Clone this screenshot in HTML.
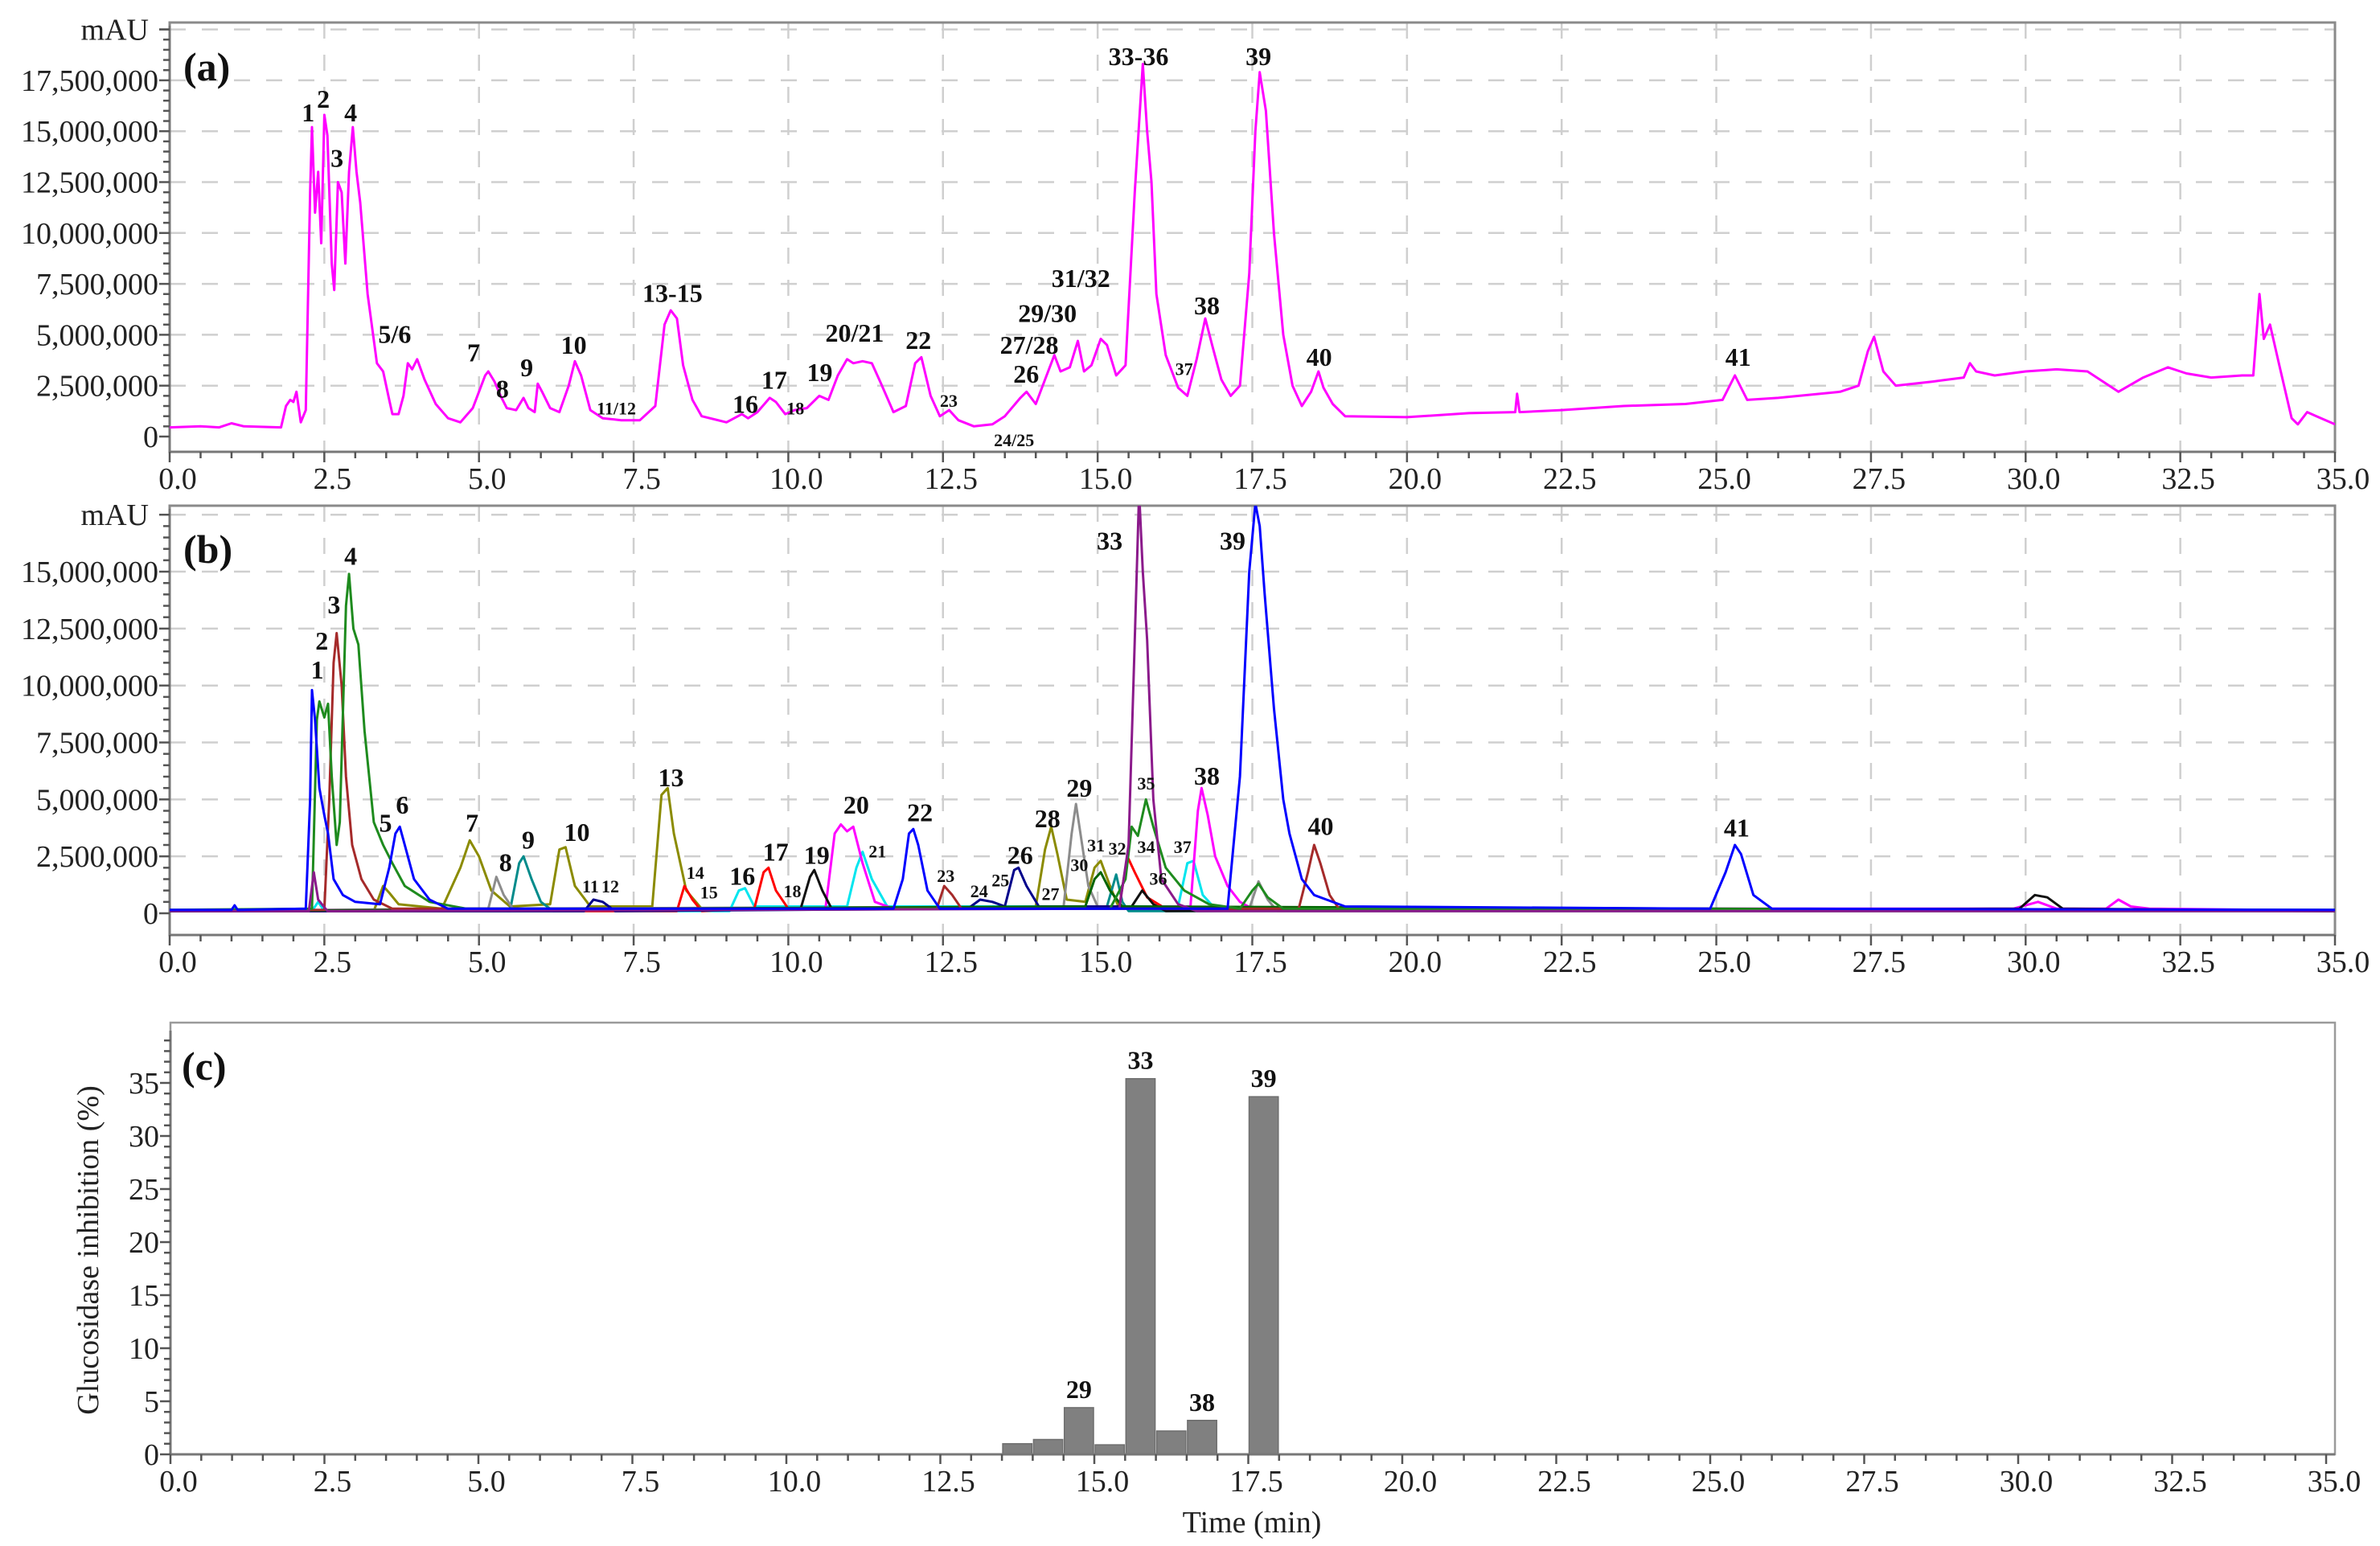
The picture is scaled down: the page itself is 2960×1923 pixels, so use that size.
<!DOCTYPE html>
<html><head><meta charset="utf-8">
<style>
html,body{margin:0;padding:0;background:#fff;}
svg{display:block;font-family:"Liberation Serif",serif;}
</style></head>
<body>
<svg id="fig" width="2960" height="1923" viewBox="0 0 2960 1923" xmlns="http://www.w3.org/2000/svg">
<defs>
<clipPath id="clipA"><rect x="211" y="28" width="2693" height="534"/></clipPath>
<clipPath id="clipB"><rect x="211" y="629" width="2693" height="534"/></clipPath>
</defs>
<g id="root"></g>
</svg>
<script>
// ---------- Panel (a) data: total chromatogram (time min, signal in millions) ----------
const aTimes=[0,0.5,0.8,1.0,1.2,1.8,1.88,1.95,2.0,2.05,2.12,2.2,2.27,2.3,2.35,2.4,2.45,2.5,2.55,2.62,2.66,2.72,2.78,2.84,2.9,2.96,3.02,3.08,3.2,3.35,3.45,3.55,3.6,3.7,3.78,3.85,3.92,4.0,4.12,4.3,4.5,4.7,4.9,5.0,5.1,5.15,5.25,5.35,5.45,5.6,5.72,5.8,5.9,5.95,6.02,6.15,6.3,6.45,6.55,6.65,6.8,7.0,7.3,7.6,7.85,8.0,8.1,8.2,8.3,8.45,8.6,9.0,9.25,9.35,9.5,9.7,9.8,9.95,10.1,10.3,10.5,10.65,10.8,10.95,11.05,11.2,11.35,11.5,11.7,11.9,12.05,12.15,12.3,12.45,12.6,12.75,13.0,13.3,13.5,13.75,13.85,14.0,14.15,14.3,14.4,14.55,14.68,14.78,14.9,15.05,15.15,15.3,15.45,15.6,15.73,15.8,15.87,15.95,16.1,16.3,16.45,16.6,16.74,16.85,17.0,17.15,17.3,17.45,17.55,17.62,17.72,17.85,18.0,18.15,18.3,18.45,18.57,18.65,18.8,19.0,20.0,21.0,21.75,21.78,21.82,22.5,23.5,24.5,25.1,25.3,25.5,26.0,27.0,27.3,27.45,27.55,27.7,27.9,28.5,29.0,29.1,29.2,29.5,30.0,30.5,31.0,31.5,31.9,32.3,32.6,33.0,33.5,33.68,33.78,33.85,33.95,34.1,34.3,34.4,34.55,34.7,35.0];
const aValues=[0.45,0.5,0.45,0.65,0.5,0.45,1.5,1.8,1.7,2.2,0.7,1.3,12,15.2,11,13,9.5,15.8,14.8,8.5,7.2,12.5,12,8.5,13,15.2,13,11.5,7,3.6,3.2,1.8,1.1,1.1,2.0,3.6,3.3,3.8,2.8,1.6,0.9,0.7,1.4,2.2,3.0,3.2,2.7,2.0,1.4,1.3,1.9,1.4,1.2,2.6,2.2,1.4,1.2,2.5,3.7,3.0,1.3,0.9,0.8,0.8,1.5,5.5,6.2,5.8,3.5,1.8,1.0,0.7,1.1,0.9,1.2,1.9,1.7,1.1,1.3,1.4,2.0,1.8,3.0,3.8,3.6,3.7,3.6,2.6,1.2,1.5,3.6,3.9,2.0,1.0,1.3,0.8,0.5,0.6,1.0,1.9,2.2,1.6,2.8,4.0,3.2,3.4,4.7,3.2,3.5,4.8,4.5,3.0,3.5,12,18.3,15,12.5,7,4,2.4,2.0,3.8,5.8,4.5,2.8,2.0,2.5,8,15,17.9,16,10,5,2.5,1.5,2.2,3.2,2.4,1.6,1.0,0.95,1.15,1.2,2.1,1.2,1.3,1.5,1.6,1.8,3.0,1.8,1.9,2.2,2.5,4.2,4.9,3.2,2.5,2.7,2.9,3.6,3.2,3.0,3.2,3.3,3.2,2.2,2.9,3.4,3.1,2.9,3.0,3.0,7.0,4.8,5.5,3.5,0.9,0.6,1.2,1.0,0.6];

// ---------- Panel (b) data: individual peak traces ----------
const bBlueT=[0,1.0,1.05,1.1,2.2,2.27,2.3,2.35,2.42,2.5,2.56,2.65,2.8,3.0,3.4,3.55,3.65,3.72,3.8,3.95,4.2,4.5,11.7,11.85,11.95,12.02,12.1,12.25,12.45,17.1,17.3,17.45,17.55,17.62,17.7,17.85,18.0,18.1,18.3,18.5,19.0,24.9,25.15,25.3,25.4,25.6,25.9,35];
const bBlueV=[0.15,0.15,0.35,0.15,0.2,5,9.8,8.5,5.5,4.3,3.5,1.5,0.8,0.5,0.4,2,3.5,3.8,3,1.5,0.6,0.2,0.2,1.5,3.5,3.7,3.0,1.0,0.2,0.2,6,15,18,17,14,9,5,3.5,1.5,0.8,0.3,0.2,1.8,3.0,2.6,0.8,0.2,0.15];
const bGreenT=[0,2.3,2.38,2.42,2.5,2.56,2.62,2.7,2.75,2.85,2.9,2.97,3.05,3.15,3.3,3.45,3.6,3.8,4.2,4.8,15.2,15.45,15.55,15.65,15.78,15.9,16.1,16.4,16.8,17.3,17.5,17.6,17.75,18.0,35];
const bGreenV=[0.15,0.2,8.5,9.3,8.6,9.2,6,3,4,13.5,14.9,12.5,11.8,8,4,3.0,2.2,1.2,0.5,0.2,0.2,1.5,3.8,3.4,5.0,3.8,2.0,1.0,0.4,0.2,1.0,1.3,0.7,0.2,0.15];
const bDarkRedT=[0,2.5,2.58,2.65,2.7,2.78,2.85,2.95,3.1,3.3,3.6,12.4,12.52,12.65,12.8,18.25,18.4,18.5,18.6,18.75,18.9,35];
const bDarkRedV=[0.12,0.15,5,11,12.3,10,6,3,1.5,0.6,0.2,0.2,1.2,0.8,0.2,0.2,1.8,3.0,2.2,0.8,0.2,0.12];
const bOliveT=[0,3.3,3.45,3.55,3.7,4.4,4.7,4.85,5.0,5.2,5.5,6.15,6.3,6.4,6.55,6.8,7.8,7.95,8.05,8.15,8.35,8.6,14.0,14.15,14.25,14.35,14.5,14.8,14.95,15.05,15.2,15.35,35];
const bOliveV=[0.1,0.1,1.2,0.9,0.4,0.2,2.0,3.2,2.5,1.0,0.3,0.4,2.8,2.9,1.2,0.3,0.3,5.2,5.5,3.5,1.0,0.2,0.3,2.8,3.8,2.6,0.6,0.5,2.0,2.3,1.2,0.2,0.1];
const bTealT=[0,5.5,5.65,5.72,5.85,6.0,6.2,15.15,15.3,15.4,15.5,35];
const bTealV=[0.1,0.1,2.2,2.5,1.5,0.5,0.1,0.3,1.7,0.5,0.1,0.1];
const bGrayT=[0,5.15,5.28,5.4,5.55,14.45,14.58,14.65,14.75,14.85,15.0,17.45,17.6,17.75,17.9,35];
const bGrayV=[0.1,0.2,1.6,0.8,0.2,0.3,3.5,4.8,3.0,1.2,0.3,0.2,1.4,0.6,0.1,0.1];
const bRedT=[0,8.2,8.32,8.45,8.6,9.45,9.6,9.68,9.8,10.0,15.35,15.48,15.6,15.8,16.1,35];
const bRedV=[0.1,0.1,1.2,0.6,0.1,0.2,1.8,2.0,1.0,0.2,0.3,2.5,1.8,0.7,0.2,0.1];
const bCyanT=[0,2.3,2.4,2.5,9.05,9.2,9.3,9.45,10.95,11.1,11.2,11.35,11.6,16.3,16.45,16.55,16.7,16.9,35];
const bCyanV=[0.1,0.1,0.5,0.1,0.1,1.0,1.1,0.3,0.3,2.0,2.7,1.5,0.3,0.3,2.2,2.3,0.8,0.2,0.1];
const bMagentaT=[0,10.6,10.75,10.85,10.95,11.05,11.2,11.4,11.7,16.5,16.62,16.68,16.78,16.9,17.1,17.3,17.5,29.8,30.2,30.5,31.3,31.5,31.7,32,35];
const bMagentaV=[0.12,0.2,3.5,3.9,3.6,3.8,2.2,0.5,0.2,0.3,4.5,5.5,4.3,2.5,1.2,0.5,0.2,0.2,0.5,0.2,0.2,0.6,0.3,0.2,0.12];
const bBlackT=[0,10.2,10.35,10.42,10.55,10.7,15.55,15.72,15.9,16.1,29.9,30.15,30.35,30.6,35];
const bBlackV=[0.1,0.2,1.6,1.9,1.0,0.2,0.3,1.0,0.4,0.1,0.2,0.8,0.7,0.2,0.1];
const bNavyT=[0,6.7,6.85,7.0,7.2,12.9,13.1,13.3,13.5,13.65,13.72,13.85,14.05,35];
const bNavyV=[0.1,0.1,0.6,0.5,0.1,0.2,0.6,0.5,0.3,1.9,2.0,1.2,0.3,0.1];
const bPurpleT=[0,2.25,2.33,2.4,2.55,15.35,15.5,15.6,15.67,15.73,15.8,15.9,16.03,16.3,16.6,35];
const bPurpleV=[0.1,0.1,1.8,0.6,0.1,0.2,3,12,18.5,15,12,5,1.5,0.4,0.1,0.1];
const bDkGreenT=[0,14.8,14.95,15.05,15.2,15.4,35];
const bDkGreenV=[0.1,0.3,1.5,1.8,1.0,0.3,0.1];

// ---------- Panel (c) data: bar chart ----------
const cStarts=[13.5,14.0,14.5,15.0,15.5,16.0,16.5,17.5];
const cValues=[1.0,1.4,4.4,0.9,35.4,2.2,3.2,33.7];
const cBarLabels=["","","29","","33","","38","39"];

// ---------- tick labels ----------
const xTickLabels=["0.0","2.5","5.0","7.5","10.0","12.5","15.0","17.5","20.0","22.5","25.0","27.5","30.0","32.5","35.0"];
const aYTickLabels=["0","2,500,000","5,000,000","7,500,000","10,000,000","12,500,000","15,000,000","17,500,000"];
const bYTickLabels=["0","2,500,000","5,000,000","7,500,000","10,000,000","12,500,000","15,000,000"];
const cYTickLabels=["0","5","10","15","20","25","30","35"];

const NS="http://www.w3.org/2000/svg";
const root=document.getElementById('root');
function mk(tag,attrs,parent){const e=document.createElementNS(NS,tag);for(const k in attrs)e.setAttribute(k,attrs[k]);(parent||root).appendChild(e);return e;}

const X0=211, XR=2904, PXM=(XR-X0)/35;
function xA(t){return X0+t*PXM;}
function xC(t){return 212+t*76.6;}
const A={top:28,bot:562,zero:543,per:25.32};
const B={top:629,bot:1163,zero:1136,per:28.33};
const C={top:1272,bot:1809,zero:1809,per:13.2};
function yA(v){return A.zero-v*A.per;}
function yB(v){return B.zero-v*B.per;}
function yC(v){return C.zero-v*C.per;}

function frame(P,name){
  const g=mk('g',{});
  
  
  return g;
}
function gridChrom(P,yf,levels,g){
  for(let i=0;i<levels.length;i++){
    const l=mk('line',{x1:X0,x2:XR,y1:yf(levels[i]),y2:yf(levels[i]),stroke:'#cfcfcf','stroke-width':2.5,'stroke-dasharray':'20 20'},g);
    
    
  }
  for(let i=1;i<14;i++){
    const l=mk('line',{x1:xA(i*2.5),x2:xA(i*2.5),y1:P.top,y2:P.bot,stroke:'#cfcfcf','stroke-width':2.5,'stroke-dasharray':'20 20'},g);
    
    
  }
}
function xAxis(P,xf,left,g,labelY){
  mk('line',{x1:left,x2:XR,y1:P.bot,y2:P.bot,stroke:'#777','stroke-width':3},g);
  for(let i=0;i<=70;i++){
    const t=i*0.5, maj=(i%5===0);
    mk('line',{x1:xf(t),x2:xf(t),y1:P.bot,y2:P.bot+(maj?13:8),stroke:'#555','stroke-width':2.5},g);
  }
  for(let i=0;i<xTickLabels.length;i++){
    const tx=mk('text',{x:xf(i*2.5)+10,y:labelY,'font-size':38,'text-anchor':'middle',fill:'#222'},g);
    tx.textContent=xTickLabels[i];
    
    
  }
}
function yAxis(top,bot,left,yf,labels,step,minorStep,maxV,g){
  mk('line',{x1:left,x2:left,y1:top,y2:bot,stroke:'#777','stroke-width':3},g);
  const n=Math.round(maxV/minorStep);
  for(let i=0;i<=n;i++){
    const v=i*minorStep; const y=yf(v); if(y<top-1||y>bot)continue;
    const maj=Math.abs(v/step-Math.round(v/step))<1e-6;
    mk('line',{x1:left-(maj?13:8),x2:left,y1:y,y2:y,stroke:'#555','stroke-width':2.5},g);
  }
  for(let i=0;i<labels.length;i++){
    const tx=mk('text',{x:left-14,y:yf(i*step)+13,'font-size':38,'text-anchor':'end',fill:'#222'},g);
    tx.textContent=labels[i];
    
    
  }
}
function trace(T,V,yf,color,name,clip,g){
  let d='';
  for(let i=0;i<T.length;i++){d+=(i?'L':'M')+xA(T[i]).toFixed(1)+','+yf(V[i]).toFixed(1);}
  const p=mk('path',{d:d,fill:'none',stroke:color,'stroke-width':3,'stroke-linejoin':'round','clip-path':'url(#'+clip+')'},g);
  
  
}
function label(txt,xd,yd,size,bold,g,name){
  const t=mk('text',{x:xd*1.888,y:yd*1.888,'font-size':size,'font-weight':bold?'bold':'normal','text-anchor':'middle',fill:'#111'},g);
  t.textContent=txt;
  
  
}

// ================= Panel A =================
const gA=frame(A,'panel-a-chart');
gridChrom(A,yA,[2.5,5,7.5,10,12.5,15,17.5,20],gA);
mk('rect',{x:X0,y:A.top,width:XR-X0,height:A.bot-A.top,fill:'none',stroke:'#8a8a8a','stroke-width':3},gA);
xAxis(A,xA,X0,gA,608);
yAxis(A.top+4,A.bot,X0,yA,aYTickLabels,2.5,0.5,20.5,gA);
mk('line',{x1:X0-13,x2:X0,y1:yA(20),y2:yA(20),stroke:'#555','stroke-width':2.5},gA);
let mau=mk('text',{x:185,y:yA(20)+13,'font-size':38,'text-anchor':'end',fill:'#222'},gA);mau.textContent='mAU';


trace(aTimes,aValues,yA,'#ff00ff','total-chromatogram-trace','clipA',gA);
let pa=mk('text',{x:228,y:100,'font-size':50,'font-weight':'bold',fill:'#111'},gA);pa.textContent='(a)';


const aBig=[["1",203,80],["2",213,71],["3",222,110],["4",231,80],["5/6",260,226],["7",312,238],["8",331,262],["9",347,248],["10",378,233],["13-15",443,199],["16",491,272],["17",510,256],["19",540,251],["20/21",563,225],["22",605,230],["26",676,252],["27/28",678,233],["29/30",690,212],["31/32",712,189],["33-36",750,43],["38",795,207],["39",829,43],["40",869,241],["41",1145,241]];
const aSmall=[["11/12",406,273],["18",524,273],["23",625,268],["24/25",668,294],["37",780,247]];
aBig.forEach(l=>label(l[0],l[1],l[2],32,true,gA));
aSmall.forEach(l=>label(l[0],l[1],l[2],22,true,gA));

// ================= Panel B =================
const gB=frame(B,'panel-b-chart');
gridChrom(B,yB,[2.5,5,7.5,10,12.5,15,17.5],gB);
mk('rect',{x:X0,y:B.top,width:XR-X0,height:B.bot-B.top,fill:'none',stroke:'#8a8a8a','stroke-width':3},gB);
xAxis(B,xA,X0,gB,1209);
yAxis(B.top+4,B.bot,X0,yB,bYTickLabels,2.5,0.5,17.6,gB);
let mau2=mk('text',{x:185,y:yB(17.5)+13,'font-size':38,'text-anchor':'end',fill:'#222'},gB);mau2.textContent='mAU';


const series=[
 [bOliveT,bOliveV,'#8b8b00','olive-trace'],
 [bTealT,bTealV,'#008b8b','teal-trace'],
 [bGrayT,bGrayV,'#8c8c8c','gray-trace'],
 [bCyanT,bCyanV,'#00e5ee','cyan-trace'],
 [bRedT,bRedV,'#ff0000','red-trace'],
 [bMagentaT,bMagentaV,'#ff00ff','magenta-trace'],
 [bBlackT,bBlackV,'#111111','black-trace'],
 [bNavyT,bNavyV,'#00008b','navy-trace'],
 [bDkGreenT,bDkGreenV,'#006400','darkgreen-trace'],
 [bDarkRedT,bDarkRedV,'#a52a2a','darkred-trace'],
 [bGreenT,bGreenV,'#1e8b1e','green-trace'],
 [bPurpleT,bPurpleV,'#8b1a8b','purple-trace'],
 [bBlueT,bBlueV,'#0000ff','blue-trace']
];
series.forEach(s=>trace(s[0],s[1],yB,s[2],s[3],'clipB',gB));
let pb=mk('text',{x:228,y:700,'font-size':50,'font-weight':'bold',fill:'#111'},gB);pb.textContent='(b)';


const bBig=[["1",209,447],["2",212,428],["3",220,404],["4",231,372],["5",254,548],["6",265,536],["7",311,548],["8",333,574],["9",348,559],["10",380,554],["13",442,518],["16",489,583],["17",511,567],["19",538,569],["20",564,536],["22",606,541],["26",672,569],["28",690,545],["29",711,525],["33",731,362],["38",795,517],["39",812,362],["40",870,550],["41",1144,551]];
const bSmall=[["11",389,588],["12",402,588],["14",458,579],["15",467,592],["18",522,591],["21",578,565],["23",623,581],["24",645,591],["25",659,584],["27",692,593],["30",711,574],["31",722,561],["32",736,563],["34",755,562],["35",755,520],["36",763,583],["37",779,562]];
bBig.forEach(l=>label(l[0],l[1],l[2],32,true,gB));
bSmall.forEach(l=>label(l[0],l[1],l[2],22,true,gB));

// ================= Panel C =================
const gC=frame(C,'panel-c-chart');
mk('rect',{x:212,y:C.top,width:XR-212,height:C.bot-C.top,fill:'none',stroke:'#9a9a9a','stroke-width':2.5},gC);
for(let i=0;i<cStarts.length;i++){
  const x1=xC(cStarts[i]), x2=xC(cStarts[i]+0.5);
  const r=mk('rect',{x:x1+1,y:yC(cValues[i]),width:x2-x1-2,height:C.zero-yC(cValues[i]),fill:'#808080',stroke:'#6e6e6e','stroke-width':1.5},gC);
  
  
  if(cBarLabels[i]){
    const t=mk('text',{x:(x1+x2)/2,y:yC(cValues[i])-12,'font-size':32,'font-weight':'bold','text-anchor':'middle',fill:'#111'},gC);
    t.textContent=cBarLabels[i];
    
    
  }
}
mk('line',{x1:212,x2:XR,y1:C.bot,y2:C.bot,stroke:'#777','stroke-width':3},gC);
for(let i=0;i<=70;i++){const t=i*0.5,maj=(i%5===0);mk('line',{x1:xC(t),x2:xC(t),y1:C.bot,y2:C.bot+(maj?12:8),stroke:'#555','stroke-width':2.5},gC);}
for(let i=0;i<xTickLabels.length;i++){
  const tx=mk('text',{x:xC(i*2.5)+10,y:1855,'font-size':38,'text-anchor':'middle',fill:'#222'},gC);
  tx.textContent=xTickLabels[i];
  
  
}
yAxis(C.top+10,C.bot,212,yC,cYTickLabels,5,1,39,gC);
let pc=mk('text',{x:226,y:1343,'font-size':50,'font-weight':'bold',fill:'#111'},gC);pc.textContent='(c)';


let xt=mk('text',{x:1557,y:1906,'font-size':38,'text-anchor':'middle',fill:'#222'},gC);xt.textContent='Time (min)';


let yt=mk('text',{x:0,y:0,'font-size':38,'text-anchor':'middle',fill:'#222',transform:'translate(122,1555) rotate(-90)'},gC);yt.textContent='Glucosidase inhibition (%)';


</script>
</body></html>
